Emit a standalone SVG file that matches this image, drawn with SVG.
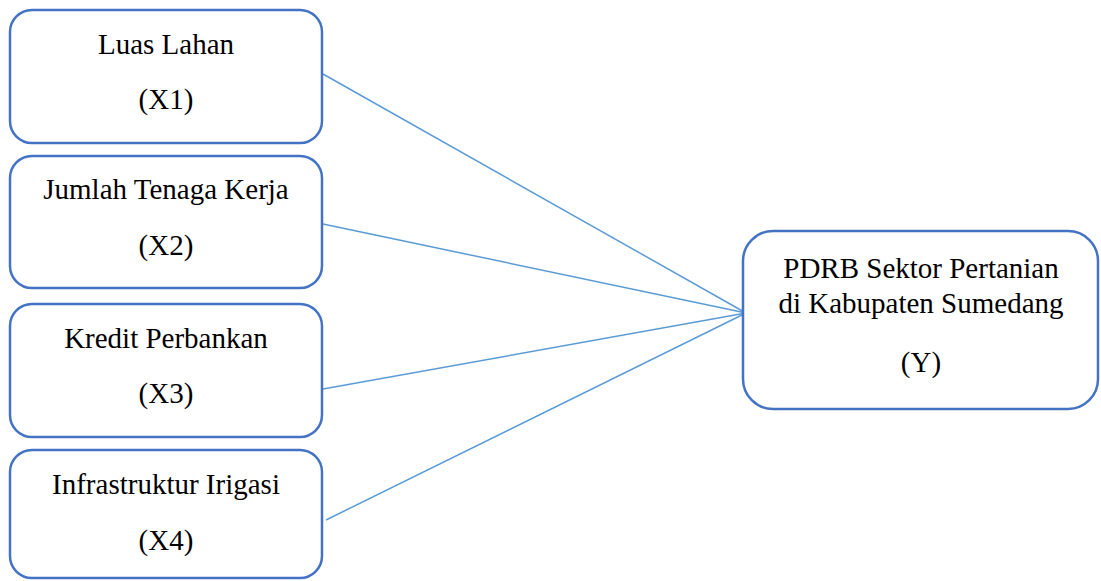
<svg xmlns="http://www.w3.org/2000/svg" width="1101" height="581" viewBox="0 0 1101 581">
  <style>
    .box { fill: #ffffff; stroke: #4472C4; stroke-width: 2.5; }
    .lbl { font-size: 29px; fill: #000000; text-anchor: middle; }
    .conn { stroke: #5B9BD5; stroke-width: 1.5; fill: none; }
  </style>
  <rect width="1101" height="581" fill="#ffffff"/>
  <g id="connectors">
    <line class="conn" x1="323" y1="74" x2="746" y2="313"/>
    <line class="conn" x1="323" y1="224" x2="746" y2="313"/>
    <line class="conn" x1="323" y1="389" x2="746" y2="313"/>
    <line class="conn" x1="326" y1="520" x2="746" y2="313"/>
  </g>
  <g font-family="Liberation Serif">
  <g id="x1">
    <rect class="box" x="10" y="10" width="312" height="133" rx="22" ry="22"/>
    <text class="lbl" x="166" y="54">Luas Lahan</text>
    <text class="lbl" x="166" y="109">(X1)</text>
  </g>
  <g id="x2">
    <rect class="box" x="10" y="156" width="312" height="132" rx="22" ry="22"/>
    <text class="lbl" x="166" y="199">Jumlah Tenaga Kerja</text>
    <text class="lbl" x="166" y="255">(X2)</text>
  </g>
  <g id="x3">
    <rect class="box" x="10" y="304" width="312" height="133" rx="22" ry="22"/>
    <text class="lbl" x="166" y="348">Kredit Perbankan</text>
    <text class="lbl" x="166" y="403">(X3)</text>
  </g>
  <g id="x4">
    <rect class="box" x="10" y="450" width="312" height="128" rx="22" ry="22"/>
    <text class="lbl" x="166" y="494">Infrastruktur Irigasi</text>
    <text class="lbl" x="166" y="550">(X4)</text>
  </g>
  <g id="y">
    <rect class="box" x="743" y="231" width="355" height="178" rx="30" ry="30"/>
    <text class="lbl" x="921" y="278">PDRB Sektor Pertanian</text>
    <text class="lbl" x="921" y="313">di Kabupaten Sumedang</text>
    <text class="lbl" x="921" y="372">(Y)</text>
  </g>
  </g>
</svg>
